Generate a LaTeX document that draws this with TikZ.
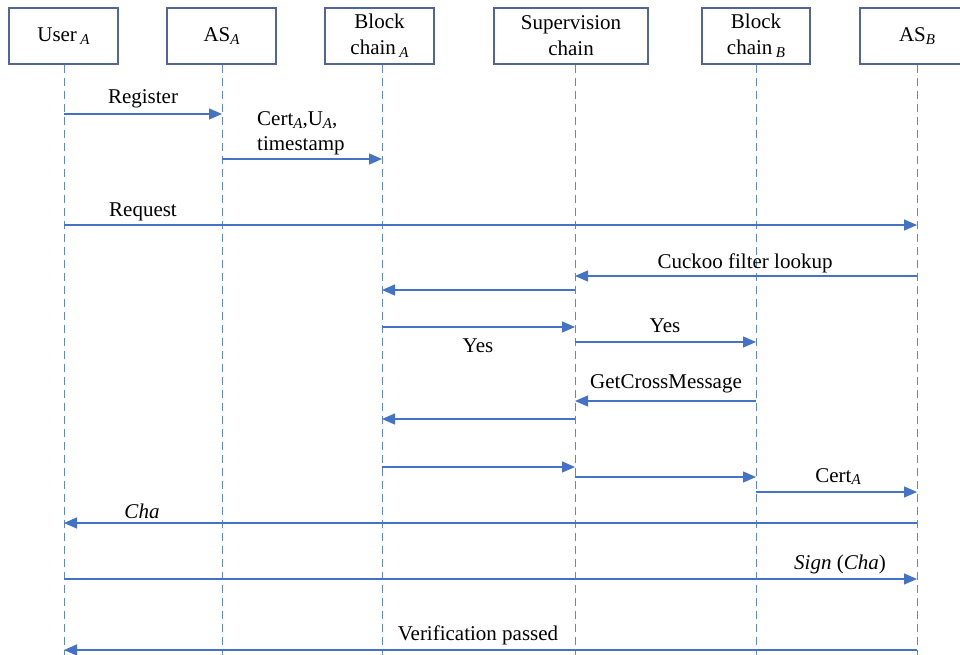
\documentclass[tikz,border=0pt]{standalone}
\usepackage{fontspec}
\setmainfont{Liberation Serif}
\usepackage{tikz}
\usetikzlibrary{arrows.meta}
\usetikzlibrary{calc}
\definecolor{linecolor}{HTML}{4472C4}
\definecolor{boxcolor}{HTML}{52649A}
\newcommand{\idx}[1]{\raisebox{-0.3ex}{\fontsize{15}{15}\selectfont\itshape #1}}
\tikzset{actor/.style={draw=boxcolor,line width=1.3pt,minimum height=56pt,align=center,inner sep=0pt},
  msg/.style={color=linecolor,line width=1.3pt,-{Triangle[length=13pt,width=11pt]}},
  life/.style={color=linecolor!85,line width=1pt,dash pattern=on 8pt off 5pt},
  lbl/.style={anchor=base,inner sep=0pt}}
\begin{document}
\begin{tikzpicture}[x=1pt,y=-1pt,font=\fontsize{21}{26}\selectfont]
\useasboundingbox (0,0) rectangle (960,655);
\clip (0,0) rectangle (960,655);
%%\draw[step=50pt,color=gray!50,dotted] (0,0) grid (960,655);
\node[actor,minimum width=109pt] (userA) at (63.5,36) {User\,\idx{A}};
\node[actor,minimum width=109pt] (asA) at (221.5,36) {AS\idx{A}};
\node[actor,minimum width=109pt] (bcA) at (379.5,36) {Block\\chain\,\idx{A}};
\node[actor,minimum width=154pt] (sup) at (571,36) {Supervision\\chain};
\node[actor,minimum width=108pt] (bcB) at (756,36) {Block\\chain\,\idx{B}};
\node[actor,minimum width=114pt] (asB) at (917,36) {AS\idx{B}};

\foreach \n/\x in {userA/64, asA/222, bcA/382, sup/575, bcB/756, asB/917}{
    \coordinate (l\n) at (\n.south -| \x,0);
    \draw[life] (l\n) -- (\x,655);
}

\foreach \from/\to/\y in {userA/asA/114, asA/bcA/159, userA/asB/225, asB/sup/276, sup/bcA/290,
    bcA/sup/327, sup/bcB/342, bcB/sup/401, sup/bcA/419, bcA/sup/467, sup/bcB/477,
    bcB/asB/492, asB/userA/523, userA/asB/579, asB/userA/650}
    \draw[msg] (l\from |- 0,\y) -- (l\to |- 0,\y);

\node[lbl] (register) at (143,104) {Register};
\node[lbl,anchor=base west] (cert) at (257,126) {Cert\idx{A},U\idx{A},};
\node[lbl,anchor=base west] (stamp) at (257,151) {timestamp};
\node[lbl] (request) at (143,216) {Request};
\node[lbl] (cuckoo) at (745,268) {Cuckoo filter lookup};
\node[lbl] (yesA) at (478,352) {Yes};
\node[lbl] (yesB) at (665,332) {Yes};
\node[lbl] (getcross) at (666,388) {GetCrossMessage};
\node[lbl] (certA) at (838,482) {Cert\idx{A}};
\node[lbl] (cha) at (142,518) {\itshape Cha};
\node[lbl] (sign) at (840,569) {\itshape Sign \upshape(\itshape Cha\upshape)};
\node[lbl] (verif) at (478,640) {Verification passed};
\end{tikzpicture}
\end{document}
